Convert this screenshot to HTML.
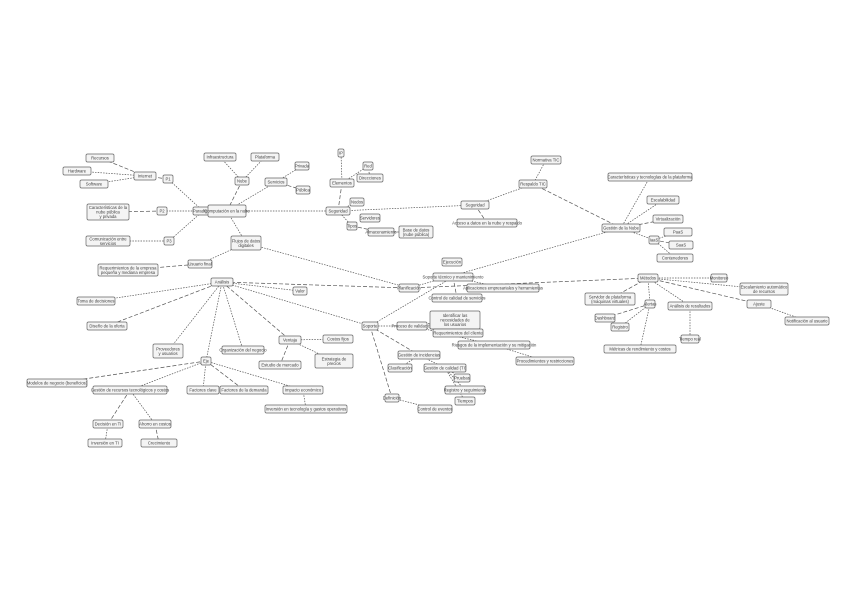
<!DOCTYPE html>
<html><head><meta charset="utf-8"><style>
html,body{margin:0;padding:0;background:#fff;}
svg{display:block}
text{font-family:"Liberation Sans",sans-serif;font-size:4.2px;fill:#444;}
</style></head><body>
<svg id="s" width="848" height="599" viewBox="0 0 848 599" xmlns="http://www.w3.org/2000/svg">
<defs><marker id="a" viewBox="0 0 4 4" refX="4" refY="2" markerWidth="3" markerHeight="3" orient="auto"><path d="M0,0L4,2L0,4z" fill="#333"/></marker></defs>
<g id="e"></g><g id="n"></g>
</svg>
<script>
var N={
rec:[100,158,28,"Recursos"],hw:[77,171,28,"Hardware"],sw:[94,184,28,"Software"],int:[145,176,22,"Internet"],p1:[168,179,10,"P1"],
car:[108,212,42,"Características de la|nube pública|y privada",16],p2:[162,211,10,"P2"],par:[203,211,20,"Paradigma"],p3:[169,241,10,"P3"],
com:[108,241,44,"Comunicación entre|servicios",10],cen:[227,211,38,"Computación en la nube",12],nube:[242,181,14,"Nube"],
inf:[220,157,32,"Infraestructura"],pla:[265,157,28,"Plataforma"],ser:[276,182,22,"Servicios"],pri:[302,166,14,"Privada"],pub:[303,190,14,"Pública"],
flu:[246,243,30,"Flujos de datos|digitales",14],usu:[200,264,24,"Usuario final"],req:[128,270,60,"Requerimientos de la empresa|pequeña y mediana empresa",12],
ana:[222,282,22,"Análisis"],val:[300,291,14,"Valor"],
seg:[338,211,24,"Seguridad"],ele:[342,183,24,"Elementos"],red:[368,166,10,"Red"],nod:[357,202,14,"Nodos"],ip:[341,153,6,"IP"],dir:[370,178,26,"Direcciones"],
srv:[370,218,20,"Servidores"],tip:[352,226,10,"Tipos"],alm:[381,232,26,"Almacenamiento"],bdd:[416,232,34,"Base de datos|(nube pública)",12],
seg2:[475,205,28,"Seguridad"],acc:[487,223,60,"Acceso a datos en la nube y respaldo"],res:[533,184,28,"Respaldo TIC"],nor:[546,160,30,"Normativa TIC"],
ges:[621,228,38,"Gestión de la Nube"],crt:[650,177,84,"Características y tecnologías de la plataforma"],esc:[663,200,32,"Escalabilidad"],
vir:[668,219,30,"Virtualización"],iaas:[654,240,10,"IaaS"],paas:[678,232,28,"PaaS"],saas:[681,245,24,"SaaS"],cont:[675,258,36,"Contenedores"],
eje:[452,262,20,"Ejecución"],met:[648,278,20,"Métodos"],mon:[719,278,16,"Monitoreo"],esa:[764,289,48,"Escalamiento automático|de recursos",12],
sdp:[610,299,50,"Servidor de plataforma|(máquinas virtuales)",12],das:[605,318,20,"Dashboard"],reg:[620,327,18,"Registro"],ale:[650,304,10,"Alertas"],
anr:[690,306,44,"Análisis de resultados"],tre:[690,339,18,"Tiempo real"],aju:[759,304,24,"Ajuste"],not:[807,321,44,"Notificación al usuario"],
mrc:[640,349,72,"Métricas de rendimiento y costos"],
tom:[96,301,38,"Toma de decisiones"],dis:[107,326,40,"Diseño de la oferta"],pro:[168,351,30,"Proveedores|y usuarios",14],
org:[243,350,42,"Organización del negocio"],ven:[290,340,22,"Ventaja"],cof:[338,339,30,"Costos fijos"],est:[334,361,38,"Estrategia de|precios",14],
mer:[280,365,42,"Estudio de mercado"],ejc:[206,361,10,"Eje"],mod:[57,383,60,"Modelos de negocio (beneficios)"],grt:[130,390,74,"Gestión de recursos tecnológicos y costos"],
fac:[203,390,32,"Factores clave"],fdd:[244,390,48,"Factores de la demanda"],imp:[303,390,40,"Impacto económico"],inv:[306,409,82,"Inversión en tecnología y gastos operativos"],
dec:[108,424,30,"Decisión en TI"],aho:[155,424,32,"Ahorro en costos"],iti:[105,443,34,"Inversión en TI"],cre:[159,443,36,"Crecimiento"],
sop:[370,326,16,"Soporte"],pln:[409,288,20,"Planificación"],stc:[453,277,40,"Soporte técnico y mantenimiento"],ape:[503,288,72,"Aplicaciones empresariales y herramientas"],
ccc:[457,298,50,"Control de calidad de servicios"],pva:[412,326,30,"Proceso de validación"],ide:[455,320,50,"Identificar las|necesidades de|los usuarios",18],
rcl:[458,333,50,"Requerimientos del cliente"],rim:[494,345,72,"Riesgos de la implementación y su mitigación"],prr:[545,361,58,"Procedimientos y restricciones"],
gin:[419,355,42,"Gestión de incidencias"],cla:[400,368,24,"Clasificación"],gca:[445,368,42,"Gestión de calidad (TI)"],pru:[462,378,16,"Pruebas"],
rys:[465,390,40,"Registro y seguimiento"],tie:[465,401,20,"Tiempos"],def:[392,398,14,"Definición"],cev:[435,409,34,"Control de eventos"]};
var E=[["int","rec"],["int","hw"],["int","sw"],["p1","int"],["par","p1"],["par","p2"],["p2","car"],["par","p3"],["p3","com"],["cen","par"],
["nube","inf"],["nube","pla"],["cen","nube"],["cen","ser"],["ser","pri"],["ser","pub"],["cen","flu"],["flu","usu"],["usu","req"],["flu","pln"],
["cen","seg"],["seg","ele"],["ele","ip"],["ele","red"],["red","dir"],["seg","nod"],["seg","tip"],["tip","alm"],["alm","bdd"],["seg","seg2"],
["seg2","acc"],["seg2","res"],["nor","res"],["ges","res"],["ges","crt"],["ges","esc"],["ges","vir"],["ges","iaas"],["iaas","paas"],["iaas","saas"],["iaas","cont"],
["pln","ges"],["pln","met"],["met","mon"],["met","esa"],["met","sdp"],["met","ale"],["met","anr"],["met","aju"],["aju","not"],["ale","mrc"],["ale","das"],["ale","reg"],["anr","tre"],
["pln","ana"],["ana","val"],["ana","tom"],["ana","dis"],["ana","pro"],["ana","org"],["ana","ven"],["ven","cof"],["ven","est"],["ven","mer"],["ana","ejc"],["ana","sop"],
["ejc","mod"],["ejc","grt"],["ejc","fac"],["ejc","fdd"],["ejc","imp"],["imp","inv"],["grt","dec"],["grt","aho"],["dec","iti"],["aho","cre"],
["sop","stc"],["stc","ape"],["stc","ccc"],["sop","pva"],["pva","ide"],["pva","rcl"],["pva","rim"],["rim","prr"],["sop","gin"],["gin","cla"],["gin","gca"],["gca","pru"],["gca","rys"],["gca","tie"],["sop","def"],["def","cev"]];
var ns="http://www.w3.org/2000/svg",ge=document.getElementById("e"),gn=document.getElementById("n");
E.forEach(function(p,i){var a=N[p[0]],b=N[p[1]];var l=document.createElementNS(ns,"line");
l.setAttribute("x1",a[0]);l.setAttribute("y1",a[1]);l.setAttribute("x2",b[0]);l.setAttribute("y2",b[1]);
l.setAttribute("stroke","#555");l.setAttribute("stroke-width","0.7");l.setAttribute("stroke-dasharray",i%3==0?"4,2":"1.5,1.2");ge.appendChild(l);});
for(var k in N){var d=N[k],w=d[2],h=d[4]||8,r=document.createElementNS(ns,"rect");
r.setAttribute("x",d[0]-w/2);r.setAttribute("y",d[1]-h/2);r.setAttribute("width",w);r.setAttribute("height",h);r.setAttribute("rx",1.5);
r.setAttribute("fill","#f4f4f4");r.setAttribute("stroke","#666");r.setAttribute("stroke-width","0.7");gn.appendChild(r);
var ls=d[3].split("|");ls.forEach(function(s,j){var t=document.createElementNS(ns,"text");t.setAttribute("x",d[0]);
t.setAttribute("y",d[1]+1.5+(j-(ls.length-1)/2)*4.5);t.setAttribute("text-anchor","middle");t.textContent=s;gn.appendChild(t);});}
</script>
</body></html>
